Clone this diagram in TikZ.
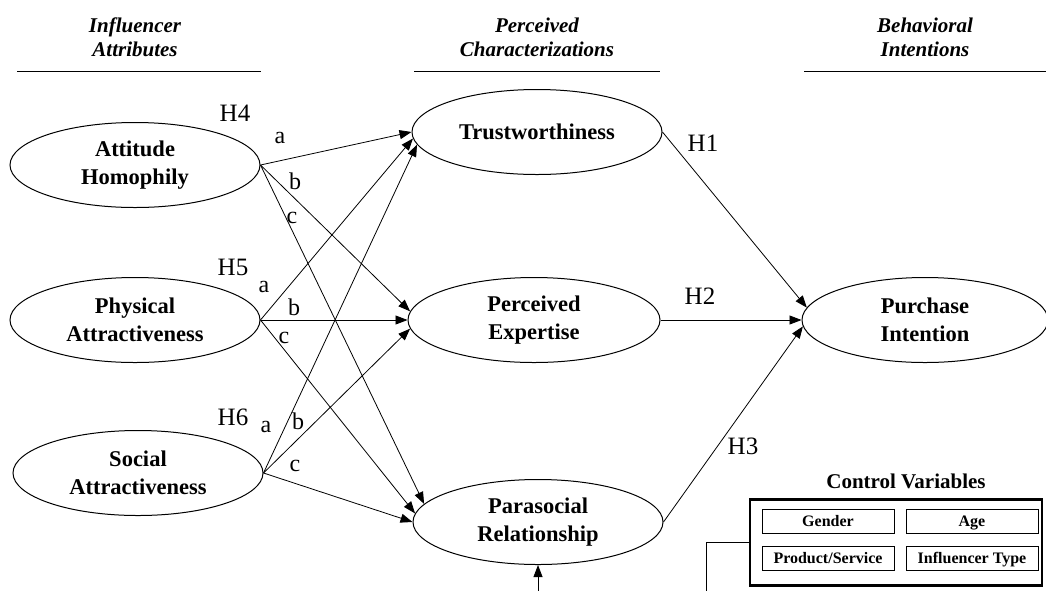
\documentclass[tikz,border=0pt]{standalone}
\usepackage{fontspec}
\setmainfont{Liberation Serif}
\usetikzlibrary{shapes.geometric,arrows.meta,calc}
\begin{document}
\begin{tikzpicture}[x=1pt,y=-1pt,
  oval/.style={draw,ellipse,line width=1pt,minimum width=250pt,minimum height=85pt,inner sep=0pt,align=center,font=\fontsize{22.5}{28}\selectfont\bfseries},
  hdr/.style={align=center,font=\fontsize{21}{24}\selectfont\bfseries\itshape},
  hlab/.style={font=\fontsize{25}{25}\selectfont,inner sep=0pt},
  sub/.style={font=\fontsize{24}{24}\selectfont,inner sep=0pt},
  arr/.style={-{Triangle[length=12pt,width=9pt]},line width=0.8pt},
  cvbox/.style={draw,line width=1pt,minimum width=132pt,minimum height=24pt,inner sep=0pt,text height=10.5pt,text depth=0pt,font=\fontsize{16}{16}\selectfont\bfseries},
  rule/.style={line width=1pt}]
\useasboundingbox (0,0) rectangle (1046,590);
\clip (0,0) rectangle (1046,590);

% headers
\node[hdr] (h1) at (135,37) {Influencer\\Attributes};
\node[hdr] (h2) at (537,37) {Perceived\\Characterizations};
\node[hdr] (h3) at (925,37) {Behavioral\\Intentions};
\draw[rule] (17,71) -- (261,71);
\draw[rule] (414,71) -- (660,71);
\draw[rule] (804,71) -- (1046,71);

% ellipses
\node[oval] (AH) at (135,165) {Attitude\\Homophily};
\node[oval] (PA) at (135,320) {Physical\\Attractiveness};
\node[oval] (SA) at (138,473) {Social\\Attractiveness};
\node[oval] (TW) at (537,132) {Trustworthiness};
\node[oval,minimum width=252pt] (PE) at (534,320) {Perceived\\Expertise};
\node[oval] (PR) at (538,522) {Parasocial\\Relationship};
\node[oval,minimum width=246pt] (PI) at (925,320) {Purchase\\Intention};

% attribute arrows
\draw[arr] (AH.east) -- (TW.west);
\draw[arr] (AH.east) -- (PE.176);
\draw[arr] (AH.east) -- (PR.171);
\draw[arr] (PA.east) -- (TW.183);
\draw[arr] (PA.east) -- (PE.west);
\draw[arr] (PA.east) -- (PR.176);
\draw[arr] (SA.east) -- (TW.186);
\draw[arr] (SA.east) -- (PE.184);
\draw[arr] (SA.east) -- (PR.west);

% outcome arrows
\draw[arr] (TW.east) -- (PI.174);
\draw[arr] (PE.east) -- (PI.west);
\draw[arr] (PR.east) -- (PI.183);

% labels
\node[hlab] (l4) at (235,113) {H4};
\node[sub] (l4a) at (280,138) {a};
\node[sub] (l4b) at (295,181) {b};
\node[sub] (l4c) at (292,218) {c};
\node[hlab] (l5) at (233,267) {H5};
\node[sub] (l5a) at (264,287) {a};
\node[sub] (l5b) at (294,307) {b};
\node[sub] (l5c) at (284,338) {c};
\node[hlab] (l6) at (233,417) {H6};
\node[sub] (l6a) at (266,427) {a};
\node[sub] (l6b) at (298,421) {b};
\node[sub] (l6c) at (295,466) {c};
\node[hlab] (l1) at (703,143) {H1};
\node[hlab] (l2) at (700,296) {H2};
\node[hlab] (l3) at (743,446) {H3};

% control variables
\node[font=\fontsize{21}{21}\selectfont\bfseries] (cvt) at (906,481) {Control Variables};
\node[draw,line width=2.2pt,minimum width=292pt,minimum height=86pt,inner sep=0pt] (CV) at (896,542.5) {};
\node[cvbox] (g) at (828,521) {Gender};
\node[cvbox] (ag) at (972,521) {Age};
\node[cvbox] (ps) at (828,558) {Product/Service};
\node[cvbox] (it) at (972,558) {Influencer Type};
\coordinate (cvend) at (706,600);
\draw[line width=0.8pt] (CV.west) -| (cvend);
\coordinate (prsrc) at (538,600);
\draw[arr] (prsrc) -- (PR.south);
\end{tikzpicture}
\end{document}
